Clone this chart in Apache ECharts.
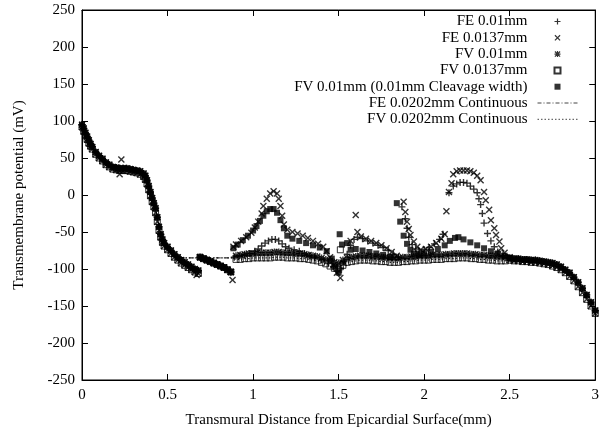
<!DOCTYPE html>
<html>
<head>
<meta charset="utf-8">
<script src="https://cdn.jsdelivr.net/npm/echarts/dist/echarts.min.js"></script>
<style>
html, body { margin: 0; padding: 0; background: #fff; }
#main { width: 602px; height: 436px; }
</style>
</head>
<body>
<div id="main"></div>
<script>
// shared epicardial part
var headX = [0, 0.01, 0.02, 0.03, 0.04, 0.05, 0.06,
  0.08, 0.1, 0.12, 0.14, 0.16, 0.18, 0.2, 0.22, 0.24, 0.26, 0.28, 0.3, 0.32, 0.34, 0.36,
  0.37, 0.38, 0.39, 0.4, 0.41, 0.42, 0.43, 0.44, 0.45, 0.46, 0.47, 0.48,
  0.5, 0.52, 0.54, 0.56, 0.58, 0.6, 0.62, 0.64, 0.66, 0.68];
var headV = [95, 90, 84, 79, 74, 69, 65,
  58, 53, 49, 44, 41, 38, 37, 36, 36, 36, 35, 34, 33, 32, 29,
  26, 20, 12, 4, -4, -11, -18, -30, -43, -53, -60, -65,
  -70, -75, -80, -84, -88, -91, -94, -97, -100, -102];
var headLowV = [92, 86, 80, 75, 70, 66, 62,
  55, 50, 46, 41, 38, 35, 34, 33, 33, 33, 32, 31, 30, 28, 25,
  21, 15, 7, -1, -9, -16, -24, -36, -48, -57, -64, -69,
  -74, -79, -84, -88, -92, -95, -98, -101, -104, -106];

// second cell (discrete models drop again)
var midX = [0.69, 0.71, 0.73, 0.75, 0.77, 0.79, 0.81, 0.83, 0.85, 0.87];
var midV = [-84, -86, -88, -90, -92, -94, -96, -98, -101, -104];

// resting band 0.9 - 2.475
var bandX = [0.9, 0.925, 0.95, 0.975, 1.0, 1.025, 1.05, 1.075, 1.1, 1.125,
  1.15, 1.175, 1.2, 1.225, 1.25, 1.275, 1.3, 1.325, 1.35, 1.375,
  1.4, 1.425, 1.45, 1.475, 1.5, 1.525, 1.55, 1.575, 1.6, 1.625,
  1.65, 1.675, 1.7, 1.725, 1.75, 1.775, 1.8, 1.825, 1.85, 1.875,
  1.9, 1.925, 1.95, 1.975, 2.0, 2.025, 2.05, 2.075, 2.1, 2.125,
  2.15, 2.175, 2.2, 2.225, 2.25, 2.275, 2.3, 2.325, 2.35, 2.375,
  2.4, 2.425, 2.45, 2.475];
var fvFineBand = [-82, -81, -80, -79, -79, -78, -78, -78, -78, -77,
  -77, -78, -78, -78, -79, -79, -80, -81, -82, -83,
  -85, -87, -89, -91, -92, -88, -85, -84, -83, -82,
  -82, -82, -83, -83, -84, -84, -85, -85, -85, -84,
  -84, -83, -83, -82, -82, -82, -81, -81, -81, -80,
  -80, -79, -79, -79, -79, -80, -80, -81, -81, -82,
  -82, -83, -83, -84];
var fvCoarseBand = [-87, -87, -86, -86, -85, -85, -85, -85, -85, -84,
  -84, -84, -85, -85, -85, -86, -86, -87, -88, -89,
  -91, -93, -96, -99, -101, -95, -91, -90, -89, -88,
  -88, -88, -89, -89, -90, -90, -91, -91, -91, -90,
  -90, -89, -89, -88, -88, -88, -87, -87, -87, -86,
  -86, -86, -85, -85, -85, -86, -86, -87, -87, -88,
  -88, -89, -89, -89];

// endocardial part
var endoX = [2.5, 2.525, 2.55, 2.575, 2.6, 2.625, 2.65, 2.675, 2.7, 2.725, 2.75,
  2.775, 2.8, 2.825, 2.85, 2.875, 2.9, 2.925, 2.95, 2.975, 3.0];
var endoV = [-85, -86, -86, -87, -87, -88, -88, -89, -90, -91, -92,
  -94, -97, -101, -105, -111, -118, -126, -135, -145, -156];
var endoLowV = [-88, -89, -89, -90, -90, -91, -91, -92, -93, -94, -96,
  -98, -101, -105, -110, -116, -124, -132, -141, -150, -160];

// FE 0.01mm between 0.88 and 2.5
var feFineMid = [[0.89, -84], [0.92, -82], [0.95, -81], [0.98, -79], [1.01, -76], [1.03, -73],
  [1.05, -69], [1.07, -65], [1.09, -62], [1.11, -60], [1.13, -60], [1.15, -62], [1.17, -66],
  [1.19, -70], [1.21, -72], [1.24, -74], [1.27, -76], [1.3, -79], [1.33, -82], [1.36, -85],
  [1.4, -88], [1.44, -92], [1.47, -97], [1.49, -103], [1.51, -99], [1.53, -90], [1.55, -80],
  [1.57, -68], [1.59, -60], [1.61, -57], [1.64, -59], [1.67, -62], [1.7, -65], [1.73, -68],
  [1.76, -71], [1.79, -75], [1.82, -80], [1.85, -84], [1.87, -16], [1.89, -32], [1.9, -45],
  [1.91, -57], [1.93, -67], [1.95, -73], [1.97, -76], [2.0, -74], [2.03, -71], [2.06, -66],
  [2.09, -60], [2.11, -53], [2.145, 3], [2.17, 12], [2.19, 15], [2.21, 17], [2.23, 17],
  [2.25, 16], [2.27, 12], [2.29, 8], [2.31, 3], [2.32, -5], [2.33, -13], [2.34, -25],
  [2.35, -38], [2.37, -52], [2.39, -62], [2.41, -70], [2.43, -77], [2.46, -82], [2.49, -85]];

// FE 0.0137mm
var feCoarseExtra = [[0.22, 28], [0.23, 48], [0.67, -108], [0.88, -115]];
var feCoarseMid = [[0.885, -70], [0.9, -67], [0.93, -62], [0.96, -57], [0.99, -51], [1.01, -44],
  [1.03, -36], [1.05, -25], [1.06, -15], [1.08, -5], [1.1, 2], [1.12, 5], [1.14, 2], [1.15, -5],
  [1.16, -15], [1.17, -28], [1.18, -40], [1.2, -47], [1.23, -50], [1.26, -52], [1.29, -55],
  [1.32, -58], [1.35, -62], [1.38, -66], [1.41, -70], [1.43, -76], [1.45, -84], [1.47, -95],
  [1.49, -105], [1.51, -112], [1.53, -92], [1.57, -62], [1.6, -27], [1.61, -50], [1.63, -56],
  [1.66, -59], [1.69, -62], [1.72, -65], [1.75, -68], [1.78, -72], [1.81, -77], [1.84, -82],
  [1.88, -9], [1.89, -23], [1.9, -36], [1.91, -46], [1.92, -54], [1.94, -63], [1.96, -70],
  [1.98, -74], [2.01, -73], [2.04, -70], [2.07, -65], [2.1, -59], [2.12, -53], [2.13, -22],
  [2.145, 4], [2.16, 16], [2.17, 28], [2.19, 32], [2.21, 33], [2.23, 33], [2.25, 33], [2.27, 32],
  [2.29, 30], [2.31, 26], [2.33, 20], [2.35, 4], [2.36, -7], [2.38, -20], [2.39, -34],
  [2.41, -45], [2.42, -54], [2.44, -63], [2.45, -72], [2.47, -78], [2.5, -84]];

// FV 0.0137mm stray points
var fvCoarseExtra = [[1.51, -74], [1.51, -97]];

// FV 0.01mm with 0.01mm cleavage
var fvCleavageMid = [[0.885, -72], [0.91, -67], [0.94, -61], [0.97, -55], [1.0, -48], [1.02, -42],
  [1.04, -35], [1.06, -28], [1.08, -22], [1.1, -19], [1.12, -19], [1.14, -24], [1.16, -34],
  [1.18, -45], [1.2, -55], [1.23, -59], [1.27, -62], [1.31, -65], [1.35, -68], [1.39, -71],
  [1.43, -76], [1.46, -86], [1.48, -97], [1.5, -105], [1.506, -53], [1.52, -67], [1.55, -65],
  [1.57, -74], [1.6, -73], [1.64, -75], [1.68, -77], [1.72, -79], [1.76, -81], [1.8, -84],
  [1.84, -11], [1.86, -36], [1.88, -55], [1.9, -66], [1.92, -74], [1.94, -79], [1.97, -81],
  [2.0, -79], [2.04, -77], [2.08, -73], [2.12, -68], [2.15, -62], [2.18, -58], [2.2, -57],
  [2.23, -60], [2.27, -64], [2.31, -68], [2.35, -72], [2.39, -76], [2.43, -79], [2.47, -82],
  [2.5, -85]];

// continuous models stay at rest after the first cell
var contFlat = [[0.6, -85], [0.7, -85], [0.8, -85], [0.88, -85]];

function zip(xs, vs) {
  return xs.map(function (x, i) { return [x, vs[i]]; });
}
var head = zip(headX, headV);
var headLow = zip(headX, headLowV);
var mid = zip(midX, midV);
var bandFine = zip(bandX, fvFineBand);
var bandCoarse = zip(bandX, fvCoarseBand);
var endo = zip(endoX, endoV);
var endoLow = zip(endoX, endoLowV);
var headCont = head.filter(function (p) { return p[0] <= 0.56; });

var plusPath = 'path://M0,4H10V6H0Z M4,0H6V10H4Z';
var crossPath = 'path://M0,1.4L1.4,0L10,8.6L8.6,10Z M8.6,0L10,1.4L1.4,10L0,8.6Z';
var starPath = 'path://M0,4H10V6H0Z M4,0H6V10H4Z M0,1.4L1.4,0L10,8.6L8.6,10Z M8.6,0L10,1.4L1.4,10L0,8.6Z';
var boxPath = 'path://M0,0H10V10H0Z';
var serif = 'Liberation Serif';

var myChart = echarts.init(document.getElementById('main'));

var tickStyle = { inside: true, length: 6, lineStyle: { color: '#000', width: 1 } };
var lineStyle = { onZero: false, lineStyle: { color: '#000', width: 1 } };
var labelStyle = { color: '#000', fontFamily: serif, fontSize: 15 };
var noDot = { color: 'rgba(0,0,0,0)', borderWidth: 0 };

var option = {
  animation: false,
  backgroundColor: '#fff',
  grid: { left: 82, right: 4, top: 10, bottom: 56, show: true, borderColor: '#000', borderWidth: 1 },
  legend: {
    orient: 'vertical',
    right: 24,
    top: 14,
    padding: 0,
    align: 'right',
    itemWidth: 40,
    itemHeight: 6,
    itemGap: 1.3,
    textStyle: { color: '#000', fontFamily: serif, fontSize: 15, lineHeight: 15, padding: [0, 5, 0, 0] },
    data: [
      { name: 'FE 0.01mm', icon: plusPath },
      { name: 'FE 0.0137mm', icon: crossPath },
      { name: 'FV 0.01mm', icon: starPath },
      { name: 'FV 0.0137mm', icon: boxPath },
      { name: 'FV 0.01mm (0.01mm Cleavage width)', icon: boxPath },
      { name: 'FE 0.0202mm Continuous', itemStyle: noDot,
        lineStyle: { color: '#444', width: 1, type: [4, 2, 1, 2] } },
      { name: 'FV 0.0202mm Continuous', itemStyle: noDot,
        lineStyle: { color: '#444', width: 1, type: [1.5, 2] } }
    ]
  },
  xAxis: [{
    type: 'value', min: 0, max: 3, interval: 0.5,
    name: 'Transmural Distance from Epicardial Surface(mm)',
    nameLocation: 'middle', nameGap: 33,
    nameTextStyle: labelStyle,
    axisLine: lineStyle, axisTick: tickStyle,
    axisLabel: Object.assign({ margin: 8 }, labelStyle),
    splitLine: { show: false }
  }, {
    type: 'value', position: 'top', min: 0, max: 3, interval: 0.5,
    axisLine: lineStyle, axisTick: tickStyle,
    axisLabel: { show: false }, splitLine: { show: false }
  }],
  yAxis: [{
    type: 'value', min: -250, max: 250, interval: 50,
    name: 'Transmembrane potential (mV)',
    nameLocation: 'middle', nameGap: 55,
    nameTextStyle: labelStyle,
    axisLine: lineStyle, axisTick: tickStyle,
    axisLabel: Object.assign({ margin: 7 }, labelStyle),
    splitLine: { show: false }
  }, {
    type: 'value', position: 'right', min: -250, max: 250, interval: 50,
    axisLine: lineStyle, axisTick: tickStyle,
    axisLabel: { show: false }, splitLine: { show: false }
  }],
  series: [{
    name: 'FE 0.01mm', type: 'scatter',
    symbol: plusPath, symbolSize: 7, symbolKeepAspect: true,
    itemStyle: { color: '#000' },
    data: head.concat(mid, feFineMid, endo)
  }, {
    name: 'FE 0.0137mm', type: 'scatter',
    symbol: crossPath, symbolSize: 7, symbolKeepAspect: true,
    itemStyle: { color: '#000' },
    data: headLow.concat(feCoarseExtra, mid, feCoarseMid, endoLow)
  }, {
    name: 'FV 0.01mm', type: 'scatter',
    symbol: starPath, symbolSize: 7, symbolKeepAspect: true,
    itemStyle: { color: '#000' },
    data: head.concat(mid, bandFine, endo)
  }, {
    name: 'FV 0.0137mm', type: 'scatter',
    symbol: boxPath, symbolSize: 6, symbolKeepAspect: true,
    itemStyle: { color: 'rgba(0,0,0,0)', borderColor: '#000', borderWidth: 1 },
    data: headLow.concat(mid, bandCoarse, fvCoarseExtra, endoLow)
  }, {
    name: 'FV 0.01mm (0.01mm Cleavage width)', type: 'scatter',
    symbol: boxPath, symbolSize: 6, symbolKeepAspect: true,
    itemStyle: { color: '#000' },
    data: head.concat(mid, fvCleavageMid, endo)
  }, {
    name: 'FE 0.0202mm Continuous', type: 'line',
    symbol: 'none',
    lineStyle: { color: '#000', width: 1, type: [4, 2, 1, 2] },
    itemStyle: { color: '#000' },
    data: headCont.concat(contFlat, bandFine, endo)
  }, {
    name: 'FV 0.0202mm Continuous', type: 'line',
    symbol: 'none',
    lineStyle: { color: '#000', width: 1, type: [1.5, 2] },
    itemStyle: { color: '#000' },
    data: headCont.concat(contFlat, bandCoarse, endoLow)
  }]
};

myChart.setOption(option);
</script>
</body>
</html>
